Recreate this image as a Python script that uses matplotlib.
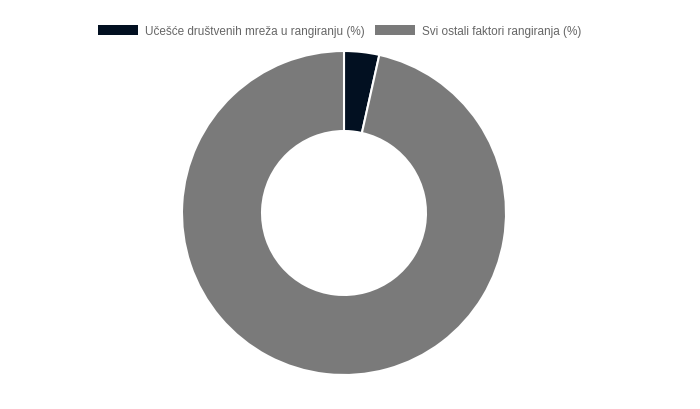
import matplotlib
matplotlib.use("Agg")
import matplotlib.pyplot as plt
from matplotlib.patches import Patch

plt.rcParams['font.family'] = ['Liberation Sans', 'DejaVu Sans']

labels = ["Učešće društvenih mreža u rangiranju (%)", "Svi ostali faktori rangiranja (%)"]
values = [3.5, 96.5]
colors = ["#021021", "#7a7a7a"]

fig = plt.figure(figsize=(7, 4.1), dpi=100)
cx, cy, r = 344, 214, 162
ax = fig.add_axes([(cx - r) / 700, (410 - cy - r) / 410, 2 * r / 700, 2 * r / 410])
ax.pie(values, colors=colors, startangle=90, counterclock=False, radius=1,
       wedgeprops=dict(width=0.494, edgecolor="white", linewidth=1.5))
ax.set_xlim(-1, 1)
ax.set_ylim(-1, 1)
ax.set_aspect("equal")
ax.axis("off")

handles = [Patch(facecolor=c, edgecolor="none") for c in colors]
fig.legend(handles, labels, loc="center", bbox_to_anchor=(339.5 / 700, 1 - 32 / 410), ncol=2,
           frameon=False, fontsize=8.5, labelcolor="#666666", handlelength=3.4,
           handleheight=1.0, handletextpad=0.55, columnspacing=0.9)

fig.savefig("out.png", dpi=100, facecolor="white")
